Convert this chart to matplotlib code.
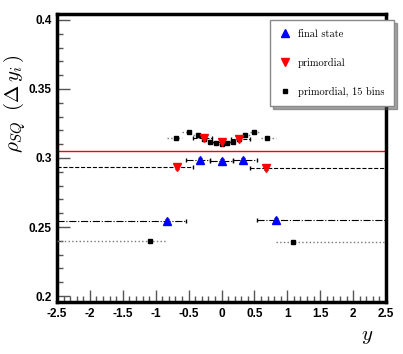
import matplotlib.pyplot as plt
import numpy as np
from matplotlib.ticker import MultipleLocator, FuncFormatter
from matplotlib.lines import Line2D

plt.rcParams['mathtext.fontset'] = 'cm'

# final state (5 bins)
fs_x = [-0.83, -0.33, 0.0, 0.33, 0.83]
fs_y = [0.2546, 0.2985, 0.2978, 0.2988, 0.2554]
fs_lo = [-2.5, -0.54, -0.18, 0.18, 0.54]
fs_hi = [-0.54, -0.18, 0.18, 0.54, 2.5]

# primordial (5 bins)
pr_x = [-0.68, -0.26, 0.0, 0.26, 0.68]
pr_y = [0.2936, 0.3148, 0.3119, 0.3141, 0.2925]
pr_lo = [-2.5, -0.43, -0.143, 0.143, 0.43]
pr_hi = [-0.43, -0.143, 0.143, 0.43, 2.5]

# primordial, 15 bins
p15_x = [-1.09, -0.69, -0.5, -0.36, -0.26, -0.17, -0.08, 0.0,
         0.08, 0.17, 0.26, 0.36, 0.5, 0.69, 1.09]
p15_y = [0.2400, 0.3148, 0.3188, 0.3164, 0.3140, 0.3119, 0.3107, 0.3105,
         0.3107, 0.3119, 0.3140, 0.3164, 0.3188, 0.3148, 0.2395]
p15_edges = [-2.5, -0.83, -0.6, -0.43, -0.3, -0.21, -0.13, -0.04, 0.04,
             0.13, 0.21, 0.3, 0.43, 0.6, 0.83, 2.5]

ref_level = 0.305

fig = plt.figure(figsize=(4.03, 3.54), dpi=100)
ax = fig.add_axes([57/403, 1-302/354, 329/403, 288/354])

def xerr(x, lo, hi):
    x = np.array(x)
    return [x - np.array(lo), np.array(hi) - x]

ax.axhline(ref_level, color='red', lw=1.0, zorder=2)

e = ax.errorbar(p15_x, p15_y, xerr=xerr(p15_x, p15_edges[:-1], p15_edges[1:]),
                yerr=0.0012, fmt='s', color='black', ms=3.5, ecolor='#777777',
                elinewidth=1.0, capsize=0, zorder=3)
e[2][0].set_linestyle(':')

e = ax.errorbar(fs_x, fs_y, xerr=xerr(fs_x, fs_lo, fs_hi), yerr=0.0015,
                fmt='^', color='blue', ms=6, ecolor='black', elinewidth=0.8,
                capsize=1.5, zorder=4)
e[2][0].set_linestyle('-.')

e = ax.errorbar(pr_x, pr_y, xerr=xerr(pr_x, pr_lo, pr_hi), yerr=0.0015,
                fmt='v', color='red', ms=6, ecolor='black', elinewidth=0.8,
                capsize=1.5, zorder=4)
e[2][0].set_linestyle('--')

ax.set_xlim(-2.5, 2.5)
ax.set_ylim(0.1957, 0.4043)
ax.xaxis.set_major_locator(MultipleLocator(0.5))
ax.xaxis.set_minor_locator(MultipleLocator(0.1))
ax.yaxis.set_major_locator(MultipleLocator(0.05))
ax.yaxis.set_minor_locator(MultipleLocator(0.01))
fmt = FuncFormatter(lambda v, p: f'{round(v, 3):g}')
ax.xaxis.set_major_formatter(fmt)
ax.yaxis.set_major_formatter(fmt)
ax.tick_params(which='both', direction='in', color='#555555', top=False, right=False)
ax.tick_params(which='major', length=9, width=1)
ax.tick_params(which='minor', length=4.5, width=1)
ax.tick_params(axis='both', labelsize=8.5, pad=4)
for lab in ax.get_xticklabels() + ax.get_yticklabels():
    lab.set_family(['Liberation Sans Narrow', 'Liberation Sans'])
    lab.set_fontweight('bold')
for s in ax.spines.values():
    s.set_linewidth(2.5)

handles = [Line2D([], [], ls='none', marker='^', color='blue', ms=6),
           Line2D([], [], ls='none', marker='v', color='red', ms=6),
           Line2D([], [], ls='none', marker='s', color='black', ms=3.5)]
labels = ['final state', 'primordial', 'primordial, 15 bins']
leg = fig.legend(handles, labels,
                 loc='upper left', bbox_to_anchor=(270/403, 1-20/354),
                 fancybox=False, shadow=True, edgecolor='#888888',
                 framealpha=1, prop={'family': 'cmr10', 'size': 7.5},
                 labelspacing=1.8, handlelength=1.0, handletextpad=0.8,
                 borderpad=0.9, borderaxespad=0)
leg.get_frame().set_linewidth(1.0)

fig.text(15/403, 1-54/354, r'$\rho_{SQ}\;\;(\Delta\,y_{i}\,)$', rotation=90,
         ha='center', va='top', fontsize=15)
fig.text(367/403, 1-336/354, r'$y$', ha='center', va='center', fontsize=15)

fig.savefig('out.png', dpi=100)
